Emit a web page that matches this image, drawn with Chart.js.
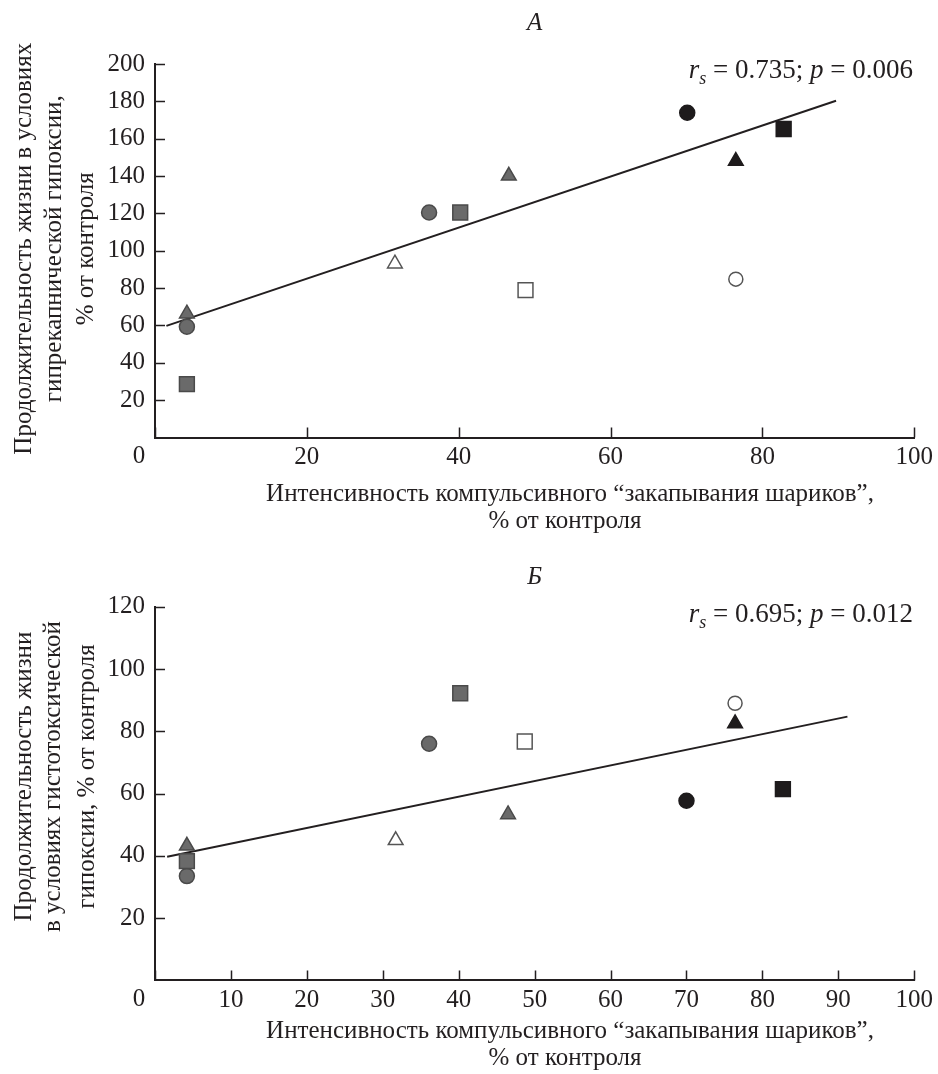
<!DOCTYPE html>
<html>
<head>
<meta charset="utf-8">
<script src="https://cdn.jsdelivr.net/npm/chart.js@4.4.1/dist/chart.umd.min.js"></script>
<style>
  body { margin: 0; background: #fff; }
  .box { position: absolute; left: 0; width: 938px; }
  #boxA { top: 0; height: 540px; }
  #boxB { top: 540px; height: 534px; }
</style>
</head>
<body>
<div class="box" id="boxA"><canvas id="chartA"></canvas></div>
<div class="box" id="boxB"><canvas id="chartB"></canvas></div>
<script>
// тики осей
var xTicksA = [0, 20, 40, 60, 80, 100];
var yTicksA = [0, 20, 40, 60, 80, 100, 120, 140, 160, 180, 200];
var xTicksB = [0, 10, 20, 30, 40, 50, 60, 70, 80, 90, 100];
var yTicksB = [0, 20, 40, 60, 80, 100, 120];

// формы маркеров в каждой группе
var grayShapes = ['circle', 'circle', 'rect', 'rect', 'triangle', 'triangle'];
var whiteShapes = ['triangle', 'rect', 'circle'];
var blackShapes = ['circle', 'triangle', 'rect'];

// панель А
var aGrayX = [4.2, 36.1, 4.2, 40.2, 4.2, 46.6];
var aGrayY = [59.3, 120.5, 28.6, 120.5, 66.3, 140.1];
var aWhiteX = [31.6, 48.8, 76.5];
var aWhiteY = [93.1, 78.9, 84.8];
var aBlackX = [70.1, 76.5, 82.8];
var aBlackY = [173.9, 148.0, 165.2];
var aTrendX = [1.5, 89.7];
var aTrendY = [59.8, 180.3];

// панель Б
var bGrayX = [4.2, 36.1, 4.2, 40.2, 4.2, 46.5];
var bGrayY = [33.5, 76.0, 38.3, 92.2, 43.2, 53.3];
var bWhiteX = [31.7, 48.7, 76.4];
var bWhiteY = [45.0, 76.7, 89.0];
var bBlackX = [70.0, 76.4, 82.7];
var bBlackY = [57.7, 82.5, 61.4];
var bTrendX = [1.6, 91.2];
var bTrendY = [39.7, 84.7];

var ink = '#231f20';
var font = '"Liberation Serif", "Times New Roman", serif';

function pts(xs, ys) {
    return xs.map(function (x, i) { return { x: x, y: ys[i] }; });
}

function radii(shapes, white) {
    return shapes.map(function (s) {
        if (s === 'circle') return white ? 7 : 7.5;
        if (s === 'rect') return 10.5;
        return 8.5;
    });
}

function markers(xs, ys, shapes, fill, edge) {
    return {
        data: pts(xs, ys),
        pointStyle: shapes,
        pointRadius: radii(shapes, fill === '#ffffff'),
        backgroundColor: fill,
        borderColor: edge,
        borderWidth: 1.5,
        showLine: false
    };
}

var decor = {
    id: 'decor',
    afterDraw: function (chart, args, o) {
        var ctx = chart.ctx, area = chart.chartArea;
        var xs = chart.scales.x, ys = chart.scales.y;
        ctx.save();
        ctx.strokeStyle = ink;
        ctx.lineWidth = 1.5;
        ctx.beginPath();
        xs.ticks.forEach(function (t) {
            var px = Math.round(xs.getPixelForValue(t.value)) + 0.5;
            ctx.moveTo(px, area.bottom);
            ctx.lineTo(px, area.bottom - 10);
        });
        ys.ticks.forEach(function (t) {
            if (t.value === 0) return;
            var py = Math.round(ys.getPixelForValue(t.value)) + 0.5;
            ctx.moveTo(area.left, py);
            ctx.lineTo(area.left + 10, py);
        });
        ctx.stroke();

        var cx = (area.left + area.right) / 2;
        var cy = (area.top + area.bottom) / 2 + o.yTitleShift;
        ctx.fillStyle = ink;
        ctx.textBaseline = 'middle';
        ctx.textAlign = 'center';

        ctx.font = 'italic 25px ' + font;
        ctx.fillText(o.letter, cx, o.letterY);

        ctx.font = '25px ' + font;
        ctx.fillText('0', 139, area.bottom + 19);
        o.xTitle.forEach(function (s, i) {
            ctx.fillText(s, o.xTitleX[i], o.xTitleY + i * 27);
        });
        o.yTitle.forEach(function (s, i) {
            ctx.save();
            ctx.translate(o.yTitleX[i], cy);
            ctx.rotate(-Math.PI / 2);
            ctx.fillText(s, 0, 0);
            ctx.restore();
        });

        // r_s = ...; p = ...
        ctx.textBaseline = 'alphabetic';
        ctx.textAlign = 'left';
        var parts = [
            { t: 'r', f: 'italic 27px ' + font, dy: 0 },
            { t: 's', f: 'italic 18px ' + font, dy: 6 },
            { t: ' = ' + o.r + '; ', f: '27px ' + font, dy: 0 },
            { t: 'p', f: 'italic 27px ' + font, dy: 0 },
            { t: ' = ' + o.p, f: '27px ' + font, dy: 0 }
        ];
        var total = 0;
        parts.forEach(function (p) { ctx.font = p.f; p.w = ctx.measureText(p.t).width; total += p.w; });
        var x = o.noteRight - total;
        parts.forEach(function (p) {
            ctx.font = p.f;
            ctx.fillText(p.t, x, o.noteY + p.dy);
            x += p.w;
        });
        ctx.restore();
    }
};

function makeChart(id, d, xTicks, yTicks, plotTop, xHeight, note) {
    var datasets = [
        markers(d.grayX, d.grayY, grayShapes, '#6a6a6a', '#4a4a4a'),
        markers(d.whiteX, d.whiteY, whiteShapes, '#ffffff', '#555555'),
        markers(d.blackX, d.blackY, blackShapes, '#1e1b1c', '#1e1b1c'),
        {
            data: pts(d.trendX, d.trendY),
            showLine: true,
            pointRadius: 0,
            borderColor: ink,
            borderWidth: 2
        }
    ];
    var tickFont = { family: font, size: 25 };
    return new Chart(document.getElementById(id), {
        type: 'scatter',
        data: { datasets: datasets },
        plugins: [decor],
        options: {
            responsive: true,
            maintainAspectRatio: false,
            animation: false,
            events: [],
            layout: { padding: { top: plotTop, right: 20, left: 0, bottom: 0 } },
            plugins: {
                legend: { display: false },
                tooltip: { enabled: false },
                decor: note
            },
            scales: {
                x: {
                    type: 'linear',
                    min: xTicks[0],
                    max: xTicks[xTicks.length - 1],
                    afterBuildTicks: function (s) { s.ticks = xTicks.map(function (v) { return { value: v }; }); },
                    afterFit: function (s) { s.height = xHeight; },
                    grid: { display: false, drawTicks: false },
                    border: { display: true, color: ink, width: 2 },
                    ticks: {
                        font: tickFont, color: ink, padding: 5, maxRotation: 0, autoSkip: false,
                        callback: function (v) { return v === 0 ? '' : v; }
                    }
                },
                y: {
                    type: 'linear',
                    min: yTicks[0],
                    max: yTicks[yTicks.length - 1],
                    afterBuildTicks: function (s) { s.ticks = yTicks.map(function (v) { return { value: v }; }); },
                    afterFit: function (s) { s.width = 155; },
                    grid: { display: false, drawTicks: false },
                    border: { display: true, color: ink, width: 2 },
                    ticks: {
                        font: tickFont, color: ink, padding: 10, autoSkip: false,
                        callback: function (v) { return v === 0 ? '' : v; }
                    }
                }
            }
        }
    });
}

makeChart('chartA', {
    grayX: aGrayX, grayY: aGrayY, whiteX: aWhiteX, whiteY: aWhiteY,
    blackX: aBlackX, blackY: aBlackY, trendX: aTrendX, trendY: aTrendY
}, xTicksA, yTicksA, 64, 102.5, {
    letter: 'A', letterY: 23,
    r: '0.735', p: '0.006', noteRight: 913, noteY: 78,
    xTitle: ['Интенсивность компульсивного “закапывания шариков”,', '% от контроля'],
    xTitleX: [570, 565],
    xTitleY: 494,
    yTitle: ['Продолжительность жизни в условиях', 'гипрекапнической гипоксии,', '% от контроля'],
    yTitleX: [24, 54, 86],
    yTitleShift: -2
});

makeChart('chartB', {
    grayX: bGrayX, grayY: bGrayY, whiteX: bWhiteX, whiteY: bWhiteY,
    blackX: bBlackX, blackY: bBlackY, trendX: bTrendX, trendY: bTrendY
}, xTicksB, yTicksB, 66.7, 93.6, {
    letter: 'Б', letterY: 37,
    r: '0.695', p: '0.012', noteRight: 913, noteY: 81.7,
    xTitle: ['Интенсивность компульсивного “закапывания шариков”,', '% от контроля'],
    xTitleX: [570, 565],
    xTitleY: 491,
    yTitle: ['Продолжительность жизни', 'в условиях гистотоксической', 'гипоксии, % от контроля'],
    yTitleX: [24, 53, 87],
    yTitleShift: -17
});
</script>
</body>
</html>
